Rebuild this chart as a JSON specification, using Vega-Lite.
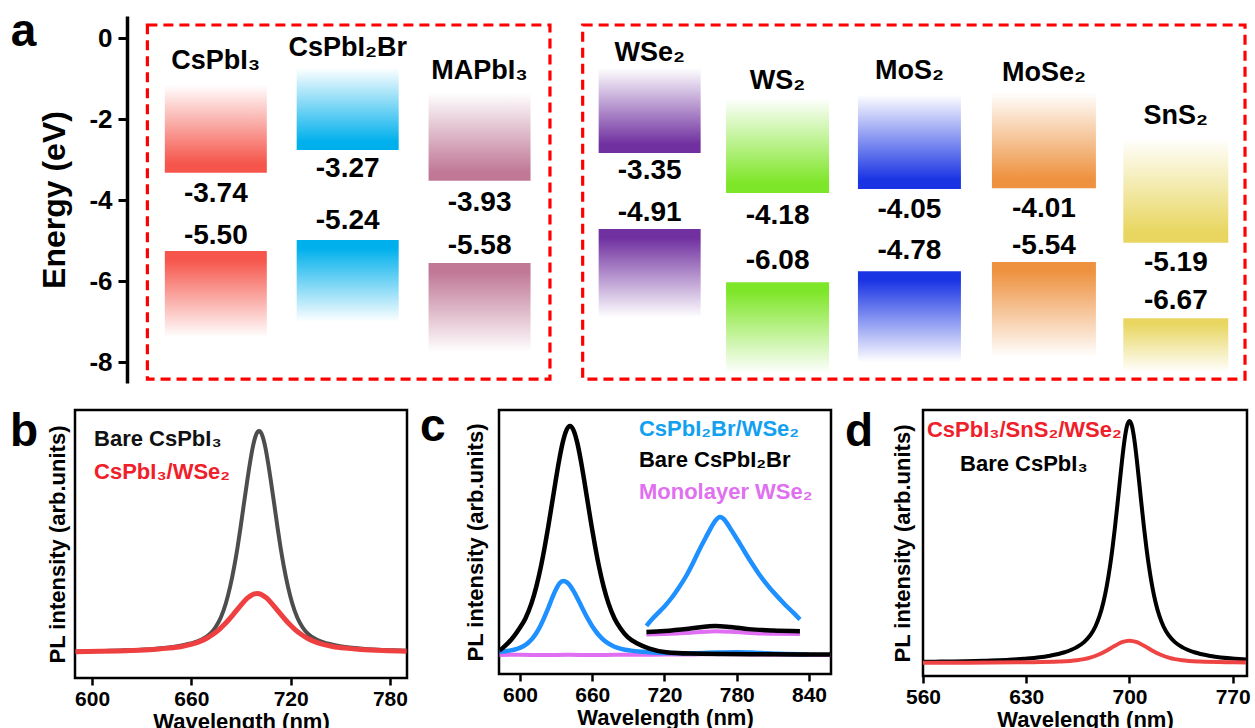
{
  "$schema": "https://vega.github.io/schema/vega-lite/v6.json",
  "padding": {"left": 8, "top": 8, "right": 0, "bottom": 0},
  "config": {
    "font": "Liberation Sans",
    "view": {"stroke": "#000000", "strokeWidth": 2.5},
    "axis": {"labelFontWeight": "bold", "titleFontWeight": "bold", "labelColor": "#000000", "titleColor": "#000000", "grid": false, "labelFont": "Liberation Sans", "titleFont": "Liberation Sans"},
    "text": {"font": "Liberation Sans", "fontWeight": "bold"}
  },
  "datasets": {
    "lv": [
      {"m": "CsPbI3", "slot": 1, "band": "CB", "top": -1.15, "bot": -3.32},
      {"m": "CsPbI3", "slot": 1, "band": "VB", "top": -5.25, "bot": -7.38},
      {"m": "CsPbI2Br", "slot": 2, "band": "CB", "top": -0.73, "bot": -2.76},
      {"m": "CsPbI2Br", "slot": 2, "band": "VB", "top": -4.98, "bot": -7.01},
      {"m": "MAPbI3", "slot": 3, "band": "CB", "top": -1.34, "bot": -3.52},
      {"m": "MAPbI3", "slot": 3, "band": "VB", "top": -5.55, "bot": -7.75},
      {"m": "WSe2", "slot": 4.29, "band": "CB", "top": -0.73, "bot": -2.83},
      {"m": "WSe2", "slot": 4.29, "band": "VB", "top": -4.71, "bot": -6.89},
      {"m": "WS2", "slot": 5.26, "band": "CB", "top": -1.47, "bot": -3.82},
      {"m": "WS2", "slot": 5.26, "band": "VB", "top": -6.02, "bot": -8.27},
      {"m": "MoS2", "slot": 6.26, "band": "CB", "top": -1.39, "bot": -3.72},
      {"m": "MoS2", "slot": 6.26, "band": "VB", "top": -5.75, "bot": -8.0},
      {"m": "MoSe2", "slot": 7.28, "band": "CB", "top": -1.34, "bot": -3.70},
      {"m": "MoSe2", "slot": 7.28, "band": "VB", "top": -5.52, "bot": -7.87},
      {"m": "SnS2", "slot": 8.28, "band": "CB", "top": -2.46, "bot": -5.05},
      {"m": "SnS2", "slot": 8.28, "band": "VB", "top": -6.91, "bot": -8.25}
    ],
    "pb": [
      {"s": "bare", "w": 590, "i": 0.0062}, {"s": "bare", "w": 619.6, "i": 0.0116}, {"s": "bare", "w": 638.4, "i": 0.0193},
      {"s": "bare", "w": 650.9, "i": 0.0294}, {"s": "bare", "w": 659.6, "i": 0.0423}, {"s": "bare", "w": 665.9, "i": 0.0588},
      {"s": "bare", "w": 670.9, "i": 0.0832}, {"s": "bare", "w": 674.6, "i": 0.1159}, {"s": "bare", "w": 677.8, "i": 0.1597},
      {"s": "bare", "w": 680.9, "i": 0.2253}, {"s": "bare", "w": 683.4, "i": 0.2975}, {"s": "bare", "w": 685.9, "i": 0.3892},
      {"s": "bare", "w": 687.8, "i": 0.4708}, {"s": "bare", "w": 689.65, "i": 0.5614}, {"s": "bare", "w": 691.5, "i": 0.6586},
      {"s": "bare", "w": 693.4, "i": 0.7573}, {"s": "bare", "w": 695.3, "i": 0.8503}, {"s": "bare", "w": 697.15, "i": 0.9285},
      {"s": "bare", "w": 699.0, "i": 0.9813}, {"s": "bare", "w": 700.9, "i": 1.0}, {"s": "bare", "w": 702.8, "i": 0.9813},
      {"s": "bare", "w": 704.65, "i": 0.9285}, {"s": "bare", "w": 706.5, "i": 0.8503}, {"s": "bare", "w": 708.4, "i": 0.7573},
      {"s": "bare", "w": 710.3, "i": 0.6586}, {"s": "bare", "w": 712.15, "i": 0.5614}, {"s": "bare", "w": 714.0, "i": 0.4708},
      {"s": "bare", "w": 715.9, "i": 0.3892}, {"s": "bare", "w": 718.4, "i": 0.2975}, {"s": "bare", "w": 720.9, "i": 0.2253},
      {"s": "bare", "w": 724.0, "i": 0.1597}, {"s": "bare", "w": 727.15, "i": 0.1159}, {"s": "bare", "w": 730.9, "i": 0.0832},
      {"s": "bare", "w": 735.9, "i": 0.0588}, {"s": "bare", "w": 742.15, "i": 0.0423}, {"s": "bare", "w": 750.9, "i": 0.0294},
      {"s": "bare", "w": 763.4, "i": 0.0193}, {"s": "bare", "w": 782.15, "i": 0.0116}, {"s": "bare", "w": 790, "i": 0.0095},
      {"s": "het", "w": 590, "i": 0.0054}, {"s": "het", "w": 604.7, "i": 0.0072}, {"s": "het", "w": 623.7, "i": 0.011},
      {"s": "het", "w": 637.0, "i": 0.0158}, {"s": "het", "w": 646.5, "i": 0.0216}, {"s": "het", "w": 654.1, "i": 0.0292},
      {"s": "het", "w": 659.8, "i": 0.0385}, {"s": "het", "w": 664.55, "i": 0.0499}, {"s": "het", "w": 669.3, "i": 0.0663},
      {"s": "het", "w": 673.1, "i": 0.084}, {"s": "het", "w": 676.9, "i": 0.1065}, {"s": "het", "w": 679.75, "i": 0.1267},
      {"s": "het", "w": 682.6, "i": 0.1495}, {"s": "het", "w": 685.45, "i": 0.1745}, {"s": "het", "w": 688.3, "i": 0.2006},
      {"s": "het", "w": 691.15, "i": 0.2259}, {"s": "het", "w": 694.0, "i": 0.2477}, {"s": "het", "w": 696.85, "i": 0.2626},
      {"s": "het", "w": 699.7, "i": 0.268}, {"s": "het", "w": 702.55, "i": 0.2626}, {"s": "het", "w": 705.4, "i": 0.2477},
      {"s": "het", "w": 708.25, "i": 0.2259}, {"s": "het", "w": 711.1, "i": 0.2006}, {"s": "het", "w": 713.95, "i": 0.1745},
      {"s": "het", "w": 716.8, "i": 0.1495}, {"s": "het", "w": 719.65, "i": 0.1267}, {"s": "het", "w": 722.5, "i": 0.1065},
      {"s": "het", "w": 726.3, "i": 0.084}, {"s": "het", "w": 730.1, "i": 0.0663}, {"s": "het", "w": 734.85, "i": 0.0499},
      {"s": "het", "w": 739.6, "i": 0.0385}, {"s": "het", "w": 745.3, "i": 0.0292}, {"s": "het", "w": 752.9, "i": 0.0216},
      {"s": "het", "w": 762.4, "i": 0.0158}, {"s": "het", "w": 775.7, "i": 0.011}, {"s": "het", "w": 790, "i": 0.008}
    ],
    "pc": [
      {"s": "pink", "p": "main", "w": 583, "i": 0.0}, {"s": "pink", "p": "main", "w": 600, "i": 0.001}, {"s": "pink", "p": "main", "w": 620, "i": 0.0},
      {"s": "pink", "p": "main", "w": 640, "i": 0.001}, {"s": "pink", "p": "main", "w": 660, "i": 0.0}, {"s": "pink", "p": "main", "w": 680, "i": 0.001},
      {"s": "pink", "p": "main", "w": 700, "i": 0.001}, {"s": "pink", "p": "main", "w": 720, "i": 0.002}, {"s": "pink", "p": "main", "w": 740, "i": 0.002},
      {"s": "pink", "p": "main", "w": 760, "i": 0.004}, {"s": "pink", "p": "main", "w": 780, "i": 0.003}, {"s": "pink", "p": "main", "w": 800, "i": 0.002},
      {"s": "pink", "p": "main", "w": 820, "i": 0.001}, {"s": "pink", "p": "main", "w": 840, "i": 0.001}, {"s": "pink", "p": "main", "w": 858, "i": 0.0},
      {"s": "pink", "p": "inset", "w": 705, "i": 0.09}, {"s": "pink", "p": "inset", "w": 730, "i": 0.094}, {"s": "pink", "p": "inset", "w": 750, "i": 0.1},
      {"s": "pink", "p": "inset", "w": 762, "i": 0.104}, {"s": "pink", "p": "inset", "w": 780, "i": 0.1}, {"s": "pink", "p": "inset", "w": 800, "i": 0.094},
      {"s": "pink", "p": "inset", "w": 832.5, "i": 0.092},
      {"s": "blue", "p": "main", "w": 583, "i": 0.0137}, {"s": "blue", "p": "main", "w": 591.2, "i": 0.019}, {"s": "blue", "p": "main", "w": 597.6, "i": 0.0269},
      {"s": "blue", "p": "main", "w": 602.4, "i": 0.0374}, {"s": "blue", "p": "main", "w": 606.4, "i": 0.0516}, {"s": "blue", "p": "main", "w": 610.4, "i": 0.0728},
      {"s": "blue", "p": "main", "w": 613.6, "i": 0.0961}, {"s": "blue", "p": "main", "w": 616.8, "i": 0.1257}, {"s": "blue", "p": "main", "w": 619.2, "i": 0.1521},
      {"s": "blue", "p": "main", "w": 621.6, "i": 0.1813}, {"s": "blue", "p": "main", "w": 624, "i": 0.2127}, {"s": "blue", "p": "main", "w": 626.4, "i": 0.2446},
      {"s": "blue", "p": "main", "w": 628.8, "i": 0.2746}, {"s": "blue", "p": "main", "w": 631.2, "i": 0.2999}, {"s": "blue", "p": "main", "w": 633.6, "i": 0.317},
      {"s": "blue", "p": "main", "w": 636, "i": 0.323}, {"s": "blue", "p": "main", "w": 639, "i": 0.317}, {"s": "blue", "p": "main", "w": 642, "i": 0.2999},
      {"s": "blue", "p": "main", "w": 645, "i": 0.2746}, {"s": "blue", "p": "main", "w": 648, "i": 0.2446}, {"s": "blue", "p": "main", "w": 651, "i": 0.2127},
      {"s": "blue", "p": "main", "w": 654, "i": 0.1813}, {"s": "blue", "p": "main", "w": 657, "i": 0.1521}, {"s": "blue", "p": "main", "w": 660, "i": 0.1257},
      {"s": "blue", "p": "main", "w": 664, "i": 0.0961}, {"s": "blue", "p": "main", "w": 668, "i": 0.0728}, {"s": "blue", "p": "main", "w": 673, "i": 0.0516},
      {"s": "blue", "p": "main", "w": 678, "i": 0.0374}, {"s": "blue", "p": "main", "w": 684, "i": 0.0269}, {"s": "blue", "p": "main", "w": 692, "i": 0.019},
      {"s": "blue", "p": "main", "w": 702, "i": 0.0137}, {"s": "blue", "p": "main", "w": 720, "i": 0.009}, {"s": "blue", "p": "main", "w": 745, "i": 0.008},
      {"s": "blue", "p": "main", "w": 765, "i": 0.011}, {"s": "blue", "p": "main", "w": 780, "i": 0.012}, {"s": "blue", "p": "main", "w": 795, "i": 0.01},
      {"s": "blue", "p": "main", "w": 815, "i": 0.005}, {"s": "blue", "p": "main", "w": 840, "i": 0.002},
      {"s": "blue", "p": "inset", "w": 705, "i": 0.127}, {"s": "blue", "p": "inset", "w": 710, "i": 0.158}, {"s": "blue", "p": "inset", "w": 715, "i": 0.185},
      {"s": "blue", "p": "inset", "w": 720, "i": 0.212}, {"s": "blue", "p": "inset", "w": 726, "i": 0.25}, {"s": "blue", "p": "inset", "w": 732, "i": 0.295},
      {"s": "blue", "p": "inset", "w": 738, "i": 0.345}, {"s": "blue", "p": "inset", "w": 744, "i": 0.405}, {"s": "blue", "p": "inset", "w": 749, "i": 0.46},
      {"s": "blue", "p": "inset", "w": 754, "i": 0.51}, {"s": "blue", "p": "inset", "w": 758, "i": 0.55}, {"s": "blue", "p": "inset", "w": 762, "i": 0.585},
      {"s": "blue", "p": "inset", "w": 766, "i": 0.603}, {"s": "blue", "p": "inset", "w": 769, "i": 0.595}, {"s": "blue", "p": "inset", "w": 772, "i": 0.575},
      {"s": "blue", "p": "inset", "w": 775, "i": 0.55}, {"s": "blue", "p": "inset", "w": 778, "i": 0.525}, {"s": "blue", "p": "inset", "w": 781, "i": 0.5},
      {"s": "blue", "p": "inset", "w": 785, "i": 0.465}, {"s": "blue", "p": "inset", "w": 789, "i": 0.43}, {"s": "blue", "p": "inset", "w": 793, "i": 0.397},
      {"s": "blue", "p": "inset", "w": 798, "i": 0.357}, {"s": "blue", "p": "inset", "w": 804, "i": 0.315}, {"s": "blue", "p": "inset", "w": 810, "i": 0.277},
      {"s": "blue", "p": "inset", "w": 816, "i": 0.243}, {"s": "blue", "p": "inset", "w": 821, "i": 0.215}, {"s": "blue", "p": "inset", "w": 827, "i": 0.185},
      {"s": "blue", "p": "inset", "w": 832.5, "i": 0.155},
      {"s": "black", "p": "main", "w": 583, "i": 0.02}, {"s": "black", "p": "main", "w": 585.5, "i": 0.03}, {"s": "black", "p": "main", "w": 593.5, "i": 0.072},
      {"s": "black", "p": "main", "w": 599.5, "i": 0.1159}, {"s": "black", "p": "main", "w": 604.5, "i": 0.1597}, {"s": "black", "p": "main", "w": 609.5, "i": 0.2253},
      {"s": "black", "p": "main", "w": 613.5, "i": 0.2975}, {"s": "black", "p": "main", "w": 617.5, "i": 0.3892}, {"s": "black", "p": "main", "w": 620.5, "i": 0.4708},
      {"s": "black", "p": "main", "w": 623.5, "i": 0.5614}, {"s": "black", "p": "main", "w": 626.5, "i": 0.6586}, {"s": "black", "p": "main", "w": 629.5, "i": 0.7573},
      {"s": "black", "p": "main", "w": 632.5, "i": 0.8503}, {"s": "black", "p": "main", "w": 635.5, "i": 0.9285}, {"s": "black", "p": "main", "w": 638.5, "i": 0.9813},
      {"s": "black", "p": "main", "w": 641.5, "i": 1.0}, {"s": "black", "p": "main", "w": 644.5, "i": 0.9813}, {"s": "black", "p": "main", "w": 647.5, "i": 0.9285},
      {"s": "black", "p": "main", "w": 650.5, "i": 0.8503}, {"s": "black", "p": "main", "w": 653.5, "i": 0.7573}, {"s": "black", "p": "main", "w": 656.5, "i": 0.6586},
      {"s": "black", "p": "main", "w": 659.5, "i": 0.5614}, {"s": "black", "p": "main", "w": 662.5, "i": 0.4708}, {"s": "black", "p": "main", "w": 665.5, "i": 0.3892},
      {"s": "black", "p": "main", "w": 669.5, "i": 0.2975}, {"s": "black", "p": "main", "w": 673.5, "i": 0.2253}, {"s": "black", "p": "main", "w": 678.5, "i": 0.1597},
      {"s": "black", "p": "main", "w": 683.5, "i": 0.1159}, {"s": "black", "p": "main", "w": 689.5, "i": 0.078}, {"s": "black", "p": "main", "w": 697.5, "i": 0.05},
      {"s": "black", "p": "main", "w": 707.5, "i": 0.028}, {"s": "black", "p": "main", "w": 721.5, "i": 0.012}, {"s": "black", "p": "main", "w": 741.5, "i": 0.006},
      {"s": "black", "p": "main", "w": 770, "i": 0.004}, {"s": "black", "p": "main", "w": 810, "i": 0.003}, {"s": "black", "p": "main", "w": 858, "i": 0.002},
      {"s": "black", "p": "inset", "w": 705, "i": 0.1}, {"s": "black", "p": "inset", "w": 720, "i": 0.105}, {"s": "black", "p": "inset", "w": 740, "i": 0.115},
      {"s": "black", "p": "inset", "w": 755, "i": 0.124}, {"s": "black", "p": "inset", "w": 762, "i": 0.127}, {"s": "black", "p": "inset", "w": 775, "i": 0.122},
      {"s": "black", "p": "inset", "w": 790, "i": 0.113}, {"s": "black", "p": "inset", "w": 810, "i": 0.107}, {"s": "black", "p": "inset", "w": 832.5, "i": 0.104}
    ],
    "pd": [
      {"s": "bare", "w": 560, "i": 0.0046}, {"s": "bare", "w": 568, "i": 0.0052}, {"s": "bare", "w": 601, "i": 0.0092},
      {"s": "bare", "w": 628.5, "i": 0.0173}, {"s": "bare", "w": 645, "i": 0.0289}, {"s": "bare", "w": 656, "i": 0.0441},
      {"s": "bare", "w": 663.7, "i": 0.0632}, {"s": "bare", "w": 669.2, "i": 0.0859}, {"s": "bare", "w": 673.6, "i": 0.1155},
      {"s": "bare", "w": 676.9, "i": 0.1504}, {"s": "bare", "w": 679.65, "i": 0.1929}, {"s": "bare", "w": 682.4, "i": 0.2531},
      {"s": "bare", "w": 684.6, "i": 0.3177}, {"s": "bare", "w": 686.8, "i": 0.3995}, {"s": "bare", "w": 688.45, "i": 0.4732},
      {"s": "bare", "w": 690.1, "i": 0.557}, {"s": "bare", "w": 691.75, "i": 0.6493}, {"s": "bare", "w": 693.4, "i": 0.7463},
      {"s": "bare", "w": 695.05, "i": 0.841}, {"s": "bare", "w": 696.7, "i": 0.923}, {"s": "bare", "w": 698.35, "i": 0.9796},
      {"s": "bare", "w": 700, "i": 1.0}, {"s": "bare", "w": 701.65, "i": 0.9796}, {"s": "bare", "w": 703.3, "i": 0.923},
      {"s": "bare", "w": 704.95, "i": 0.841}, {"s": "bare", "w": 706.6, "i": 0.7463}, {"s": "bare", "w": 708.25, "i": 0.6493},
      {"s": "bare", "w": 709.9, "i": 0.557}, {"s": "bare", "w": 711.55, "i": 0.4732}, {"s": "bare", "w": 713.2, "i": 0.3995},
      {"s": "bare", "w": 715.4, "i": 0.3177}, {"s": "bare", "w": 717.6, "i": 0.2531}, {"s": "bare", "w": 720.35, "i": 0.1929},
      {"s": "bare", "w": 723.1, "i": 0.1504}, {"s": "bare", "w": 726.4, "i": 0.1155}, {"s": "bare", "w": 730.8, "i": 0.0859},
      {"s": "bare", "w": 736.3, "i": 0.0632}, {"s": "bare", "w": 744, "i": 0.0441}, {"s": "bare", "w": 755, "i": 0.0289},
      {"s": "bare", "w": 771.5, "i": 0.0173}, {"s": "bare", "w": 779, "i": 0.0143},
      {"s": "het", "w": 560, "i": 0.001}, {"s": "het", "w": 589.5, "i": 0.001}, {"s": "het", "w": 632, "i": 0.0027},
      {"s": "het", "w": 652.4, "i": 0.0054}, {"s": "het", "w": 664.3, "i": 0.0107}, {"s": "het", "w": 672.8, "i": 0.0207},
      {"s": "het", "w": 679.6, "i": 0.0358}, {"s": "het", "w": 684.7, "i": 0.0516}, {"s": "het", "w": 689.8, "i": 0.0697},
      {"s": "het", "w": 694.9, "i": 0.0855}, {"s": "het", "w": 700, "i": 0.092}, {"s": "het", "w": 705.1, "i": 0.0855},
      {"s": "het", "w": 710.2, "i": 0.0697}, {"s": "het", "w": 715.3, "i": 0.0516}, {"s": "het", "w": 720.4, "i": 0.0358},
      {"s": "het", "w": 727.2, "i": 0.0207}, {"s": "het", "w": 735.7, "i": 0.0107}, {"s": "het", "w": 747.6, "i": 0.0054},
      {"s": "het", "w": 768, "i": 0.0027}, {"s": "het", "w": 779, "i": 0.0022}
    ]
  },
  "spacing": 27,
  "bounds": "flush",
  "vconcat": [
    {
      "width": 1177,
      "height": 367,
      "view": {"stroke": null},
      "layer": [
        {
          "data": {"values": [{"x1": 0.481, "x2": 3.534, "y1": 0.328, "y2": -8.412}, {"x1": 3.782, "x2": 8.805, "y1": 0.328, "y2": -8.412}]},
          "mark": {"type": "rect", "filled": false, "color": "#ff0000", "strokeWidth": 3.2, "strokeDash": [10, 6]},
          "encoding": {
            "x": {"field": "x1", "type": "quantitative", "scale": {"domain": [-0.03, 8.82], "nice": false, "zero": false}, "axis": null},
            "x2": {"field": "x2"},
            "y": {"field": "y1", "type": "quantitative", "scale": {"domain": [-8.51, 0.55], "nice": false, "zero": false},
                  "axis": {"title": "Energy (eV)", "offset": -52, "values": [0, -2, -4, -6, -8], "labelExpr": "toString(datum.value)", "domain": true, "domainColor": "#000000", "domainWidth": 3.5, "ticks": true, "tickSize": 9, "tickWidth": 3, "tickColor": "#000000", "labelFontSize": 26, "labelPadding": 6, "labelFlush": false, "labelOverlap": false, "titleFontSize": 32, "titlePadding": 17}},
            "y2": {"field": "y2"}
          }
        },
        {"data": {"name": "lv"}, "transform": [{"filter": "datum.m === 'CsPbI3'"}], "mark": {"type": "bar", "width": 102},
         "encoding": {"x": {"field": "slot", "type": "quantitative", "axis": null}, "y": {"field": "top", "type": "quantitative"}, "y2": {"field": "bot"},
          "fill": {"condition": {"test": "datum.band === 'CB'", "value": {"gradient": "linear", "x1": 0, "y1": 0, "x2": 0, "y2": 1, "stops": [{"offset": 0, "color": "#ffffff"}, {"offset": 0.9, "color": "#f5554a"}, {"offset": 1, "color": "#f5554a"}]}},
                   "value": {"gradient": "linear", "x1": 0, "y1": 0, "x2": 0, "y2": 1, "stops": [{"offset": 0, "color": "#f5554a"}, {"offset": 0.1, "color": "#f5554a"}, {"offset": 1, "color": "#ffffff"}]}}}},
        {"data": {"name": "lv"}, "transform": [{"filter": "datum.m === 'CsPbI2Br'"}], "mark": {"type": "bar", "width": 102},
         "encoding": {"x": {"field": "slot", "type": "quantitative", "axis": null}, "y": {"field": "top", "type": "quantitative"}, "y2": {"field": "bot"},
          "fill": {"condition": {"test": "datum.band === 'CB'", "value": {"gradient": "linear", "x1": 0, "y1": 0, "x2": 0, "y2": 1, "stops": [{"offset": 0, "color": "#ffffff"}, {"offset": 0.9, "color": "#00b0ec"}, {"offset": 1, "color": "#00b0ec"}]}},
                   "value": {"gradient": "linear", "x1": 0, "y1": 0, "x2": 0, "y2": 1, "stops": [{"offset": 0, "color": "#00b0ec"}, {"offset": 0.1, "color": "#00b0ec"}, {"offset": 1, "color": "#ffffff"}]}}}},
        {"data": {"name": "lv"}, "transform": [{"filter": "datum.m === 'MAPbI3'"}], "mark": {"type": "bar", "width": 102},
         "encoding": {"x": {"field": "slot", "type": "quantitative", "axis": null}, "y": {"field": "top", "type": "quantitative"}, "y2": {"field": "bot"},
          "fill": {"condition": {"test": "datum.band === 'CB'", "value": {"gradient": "linear", "x1": 0, "y1": 0, "x2": 0, "y2": 1, "stops": [{"offset": 0, "color": "#ffffff"}, {"offset": 0.9, "color": "#c07896"}, {"offset": 1, "color": "#c07896"}]}},
                   "value": {"gradient": "linear", "x1": 0, "y1": 0, "x2": 0, "y2": 1, "stops": [{"offset": 0, "color": "#c07896"}, {"offset": 0.1, "color": "#c07896"}, {"offset": 1, "color": "#ffffff"}]}}}},
        {"data": {"name": "lv"}, "transform": [{"filter": "datum.m === 'WSe2'"}], "mark": {"type": "bar", "width": 102},
         "encoding": {"x": {"field": "slot", "type": "quantitative", "axis": null}, "y": {"field": "top", "type": "quantitative"}, "y2": {"field": "bot"},
          "fill": {"condition": {"test": "datum.band === 'CB'", "value": {"gradient": "linear", "x1": 0, "y1": 0, "x2": 0, "y2": 1, "stops": [{"offset": 0, "color": "#ffffff"}, {"offset": 0.9, "color": "#7030a0"}, {"offset": 1, "color": "#7030a0"}]}},
                   "value": {"gradient": "linear", "x1": 0, "y1": 0, "x2": 0, "y2": 1, "stops": [{"offset": 0, "color": "#7030a0"}, {"offset": 0.1, "color": "#7030a0"}, {"offset": 1, "color": "#ffffff"}]}}}},
        {"data": {"name": "lv"}, "transform": [{"filter": "datum.m === 'WS2'"}], "mark": {"type": "bar", "width": 103},
         "encoding": {"x": {"field": "slot", "type": "quantitative", "axis": null}, "y": {"field": "top", "type": "quantitative"}, "y2": {"field": "bot"},
          "fill": {"condition": {"test": "datum.band === 'CB'", "value": {"gradient": "linear", "x1": 0, "y1": 0, "x2": 0, "y2": 1, "stops": [{"offset": 0, "color": "#ffffff"}, {"offset": 0.9, "color": "#7ee628"}, {"offset": 1, "color": "#7ee628"}]}},
                   "value": {"gradient": "linear", "x1": 0, "y1": 0, "x2": 0, "y2": 1, "stops": [{"offset": 0, "color": "#7ee628"}, {"offset": 0.1, "color": "#7ee628"}, {"offset": 1, "color": "#ffffff"}]}}}},
        {"data": {"name": "lv"}, "transform": [{"filter": "datum.m === 'MoS2'"}], "mark": {"type": "bar", "width": 103},
         "encoding": {"x": {"field": "slot", "type": "quantitative", "axis": null}, "y": {"field": "top", "type": "quantitative"}, "y2": {"field": "bot"},
          "fill": {"condition": {"test": "datum.band === 'CB'", "value": {"gradient": "linear", "x1": 0, "y1": 0, "x2": 0, "y2": 1, "stops": [{"offset": 0, "color": "#ffffff"}, {"offset": 0.9, "color": "#1a34e4"}, {"offset": 1, "color": "#1a34e4"}]}},
                   "value": {"gradient": "linear", "x1": 0, "y1": 0, "x2": 0, "y2": 1, "stops": [{"offset": 0, "color": "#1a34e4"}, {"offset": 0.1, "color": "#1a34e4"}, {"offset": 1, "color": "#ffffff"}]}}}},
        {"data": {"name": "lv"}, "transform": [{"filter": "datum.m === 'MoSe2'"}], "mark": {"type": "bar", "width": 104},
         "encoding": {"x": {"field": "slot", "type": "quantitative", "axis": null}, "y": {"field": "top", "type": "quantitative"}, "y2": {"field": "bot"},
          "fill": {"condition": {"test": "datum.band === 'CB'", "value": {"gradient": "linear", "x1": 0, "y1": 0, "x2": 0, "y2": 1, "stops": [{"offset": 0, "color": "#ffffff"}, {"offset": 0.9, "color": "#ee9240"}, {"offset": 1, "color": "#ee9240"}]}},
                   "value": {"gradient": "linear", "x1": 0, "y1": 0, "x2": 0, "y2": 1, "stops": [{"offset": 0, "color": "#ee9240"}, {"offset": 0.1, "color": "#ee9240"}, {"offset": 1, "color": "#ffffff"}]}}}},
        {"data": {"name": "lv"}, "transform": [{"filter": "datum.m === 'SnS2'"}], "mark": {"type": "bar", "width": 105},
         "encoding": {"x": {"field": "slot", "type": "quantitative", "axis": null}, "y": {"field": "top", "type": "quantitative"}, "y2": {"field": "bot"},
          "fill": {"condition": {"test": "datum.band === 'CB'", "value": {"gradient": "linear", "x1": 0, "y1": 0, "x2": 0, "y2": 1, "stops": [{"offset": 0, "color": "#ffffff"}, {"offset": 0.9, "color": "#e8d660"}, {"offset": 1, "color": "#e8d660"}]}},
                   "value": {"gradient": "linear", "x1": 0, "y1": 0, "x2": 0, "y2": 1, "stops": [{"offset": 0, "color": "#e8d660"}, {"offset": 0.1, "color": "#e8d660"}, {"offset": 1, "color": "#ffffff"}]}}}},
        {
          "data": {"values": [
            {"t": "CsPbI₃", "slot": 1, "e": -0.56}, {"t": "CsPbI₂Br", "slot": 2, "e": -0.24}, {"t": "MAPbI₃", "slot": 3, "e": -0.81},
            {"t": "WSe₂", "slot": 4.29, "e": -0.36}, {"t": "WS₂", "slot": 5.26, "e": -1.05}, {"t": "MoS₂", "slot": 6.26, "e": -0.81},
            {"t": "MoSe₂", "slot": 7.28, "e": -0.86}, {"t": "SnS₂", "slot": 8.28, "e": -1.92}
          ]},
          "mark": {"type": "text", "fontSize": 27, "fontWeight": "bold", "color": "#000000", "align": "center", "baseline": "middle"},
          "encoding": {"x": {"field": "slot", "type": "quantitative", "axis": null}, "y": {"field": "e", "type": "quantitative"}, "text": {"field": "t"}}
        },
        {
          "data": {"values": [
            {"t": "-3.74", "slot": 1, "e": -3.84}, {"t": "-5.50", "slot": 1, "e": -4.88},
            {"t": "-3.27", "slot": 2, "e": -3.23}, {"t": "-5.24", "slot": 2, "e": -4.51},
            {"t": "-3.93", "slot": 3, "e": -4.07}, {"t": "-5.58", "slot": 3, "e": -5.13},
            {"t": "-3.35", "slot": 4.29, "e": -3.28}, {"t": "-4.91", "slot": 4.29, "e": -4.31},
            {"t": "-4.18", "slot": 5.26, "e": -4.39}, {"t": "-6.08", "slot": 5.26, "e": -5.5},
            {"t": "-4.05", "slot": 6.26, "e": -4.24}, {"t": "-4.78", "slot": 6.26, "e": -5.25},
            {"t": "-4.01", "slot": 7.28, "e": -4.21}, {"t": "-5.54", "slot": 7.28, "e": -5.13},
            {"t": "-5.19", "slot": 8.28, "e": -5.55}, {"t": "-6.67", "slot": 8.28, "e": -6.49}
          ]},
          "mark": {"type": "text", "fontSize": 28, "fontWeight": "bold", "color": "#000000", "align": "center", "baseline": "middle"},
          "encoding": {"x": {"field": "slot", "type": "quantitative", "axis": null}, "y": {"field": "e", "type": "quantitative"}, "text": {"field": "t"}}
        },
        {
          "data": {"values": [{"t": "a", "slot": -0.556, "e": -0.19}]},
          "mark": {"type": "text", "fontSize": 46, "fontWeight": "bold", "color": "#000000", "align": "left", "baseline": "alphabetic"},
          "encoding": {"x": {"field": "slot", "type": "quantitative", "axis": null}, "y": {"field": "e", "type": "quantitative"}, "text": {"field": "t"}}
        }
      ]
    },
    {
      "spacing": 92,
      "bounds": "flush",
      "hconcat": [
        {
          "width": 332,
          "height": 268,
          "layer": [
            {
              "data": {"name": "pb"}, "transform": [{"filter": "datum.s === 'bare'"}],
              "mark": {"type": "line", "color": "#4d4d4d", "strokeWidth": 4, "interpolate": "monotone"},
              "encoding": {
                "x": {"field": "w", "type": "quantitative", "scale": {"domain": [589.7, 790.3], "nice": false, "zero": false},
                      "axis": {"title": "Wavelength (nm)", "values": [600, 660, 720, 780], "domain": false, "ticks": true, "tickSize": 7, "tickWidth": 2.5, "tickColor": "#000000", "labelFontSize": 21, "labelPadding": 3, "labelFlush": false, "labelOverlap": false, "titleFontSize": 22, "titlePadding": 2}},
                "y": {"field": "i", "type": "quantitative", "scale": {"domain": [-0.113, 1.095], "nice": false, "zero": false},
                      "axis": {"title": "PL intensity (arb.units)", "labels": false, "ticks": false, "domain": false, "titleFontSize": 22, "titlePadding": 5.5}}
              }
            },
            {
              "data": {"name": "pb"}, "transform": [{"filter": "datum.s === 'het'"}],
              "mark": {"type": "line", "color": "#ee4040", "strokeWidth": 5, "interpolate": "monotone"},
              "encoding": {"x": {"field": "w", "type": "quantitative"}, "y": {"field": "i", "type": "quantitative"}}
            },
            {
              "data": {"values": [{"t": "b", "w": 550.4, "i": 0.932}]},
              "mark": {"type": "text", "fontSize": 46, "fontWeight": "bold", "color": "#000000", "align": "left", "baseline": "alphabetic"},
              "encoding": {"x": {"field": "w", "type": "quantitative"}, "y": {"field": "i", "type": "quantitative"}, "text": {"field": "t"}}
            },
            {
              "data": {"values": [{"t": "Bare CsPbI₃", "w": 601.2, "i": 0.964}]},
              "mark": {"type": "text", "fontSize": 22, "fontWeight": "bold", "color": "#111111", "align": "left", "baseline": "middle"},
              "encoding": {"x": {"field": "w", "type": "quantitative"}, "y": {"field": "i", "type": "quantitative"}, "text": {"field": "t"}}
            },
            {
              "data": {"values": [{"t": "CsPbI₃/WSe₂", "w": 601.2, "i": 0.815}]},
              "mark": {"type": "text", "fontSize": 22, "fontWeight": "bold", "color": "#f0202a", "align": "left", "baseline": "middle"},
              "encoding": {"x": {"field": "w", "type": "quantitative"}, "y": {"field": "i", "type": "quantitative"}, "text": {"field": "t"}}
            }
          ]
        },
        {
          "width": 332,
          "height": 264,
          "layer": [
            {
              "data": {"name": "pc"}, "transform": [{"filter": "datum.s === 'pink'"}],
              "mark": {"type": "line", "color": "#df6ef2", "strokeWidth": 4, "interpolate": "monotone"},
              "encoding": {
                "x": {"field": "w", "type": "quantitative", "scale": {"domain": [582.56, 858.3], "nice": false, "zero": false},
                      "axis": {"title": "Wavelength (nm)", "values": [600, 660, 720, 780, 840], "domain": false, "ticks": true, "tickSize": 7, "tickWidth": 2.5, "tickColor": "#000000", "labelFontSize": 21, "labelPadding": 3, "labelFlush": false, "labelOverlap": false, "titleFontSize": 22, "titlePadding": 2}},
                "y": {"field": "i", "type": "quantitative", "scale": {"domain": [-0.083, 1.07], "nice": false, "zero": false},
                      "axis": {"title": "PL intensity (arb.units)", "labels": false, "ticks": false, "domain": false, "titleFontSize": 22, "titlePadding": 11.5}},
                "detail": {"field": "p", "type": "nominal"}
              }
            },
            {
              "data": {"name": "pc"}, "transform": [{"filter": "datum.s === 'blue'"}],
              "mark": {"type": "line", "color": "#1e90ff", "strokeWidth": 4.5, "interpolate": "monotone"},
              "encoding": {"x": {"field": "w", "type": "quantitative"}, "y": {"field": "i", "type": "quantitative"}, "detail": {"field": "p", "type": "nominal"}}
            },
            {
              "data": {"name": "pc"}, "transform": [{"filter": "datum.s === 'black'"}],
              "mark": {"type": "line", "color": "#000000", "strokeWidth": 4.5, "interpolate": "monotone"},
              "encoding": {"x": {"field": "w", "type": "quantitative"}, "y": {"field": "i", "type": "quantitative"}, "detail": {"field": "p", "type": "nominal"}}
            },
            {
              "data": {"values": [{"t": "c", "w": 516.9, "i": 0.934}]},
              "mark": {"type": "text", "fontSize": 46, "fontWeight": "bold", "color": "#000000", "align": "left", "baseline": "alphabetic"},
              "encoding": {"x": {"field": "w", "type": "quantitative"}, "y": {"field": "i", "type": "quantitative"}, "text": {"field": "t"}}
            },
            {
              "data": {"values": [{"t": "CsPbI₂Br/WSe₂", "w": 698.8, "i": 0.987}]},
              "mark": {"type": "text", "fontSize": 22, "fontWeight": "bold", "color": "#12a0f0", "align": "left", "baseline": "middle"},
              "encoding": {"x": {"field": "w", "type": "quantitative"}, "y": {"field": "i", "type": "quantitative"}, "text": {"field": "t"}}
            },
            {
              "data": {"values": [{"t": "Bare CsPbI₂Br", "w": 698.8, "i": 0.852}]},
              "mark": {"type": "text", "fontSize": 22, "fontWeight": "bold", "color": "#000000", "align": "left", "baseline": "middle"},
              "encoding": {"x": {"field": "w", "type": "quantitative"}, "y": {"field": "i", "type": "quantitative"}, "text": {"field": "t"}}
            },
            {
              "data": {"values": [{"t": "Monolayer WSe₂", "w": 698.8, "i": 0.712}]},
              "mark": {"type": "text", "fontSize": 22, "fontWeight": "bold", "color": "#e070f0", "align": "left", "baseline": "middle"},
              "encoding": {"x": {"field": "w", "type": "quantitative"}, "y": {"field": "i", "type": "quantitative"}, "text": {"field": "t"}}
            }
          ]
        },
        {
          "width": 324,
          "height": 266,
          "layer": [
            {
              "data": {"name": "pd"}, "transform": [{"filter": "datum.s === 'bare'"}],
              "mark": {"type": "line", "color": "#000000", "strokeWidth": 4, "interpolate": "monotone"},
              "encoding": {
                "x": {"field": "w", "type": "quantitative", "scale": {"domain": [560, 779.7], "nice": false, "zero": false},
                      "axis": {"title": "Wavelength (nm)", "values": [560, 630, 700, 770], "domain": false, "ticks": true, "tickSize": 7, "tickWidth": 2.5, "tickColor": "#000000", "labelFontSize": 21, "labelPadding": 3, "labelFlush": false, "labelOverlap": false, "titleFontSize": 22, "titlePadding": 2}},
                "y": {"field": "i", "type": "quantitative", "scale": {"domain": [-0.054, 1.045], "nice": false, "zero": false},
                      "axis": {"title": "PL intensity (arb.units)", "labels": false, "ticks": false, "domain": false, "titleFontSize": 22, "titlePadding": 8.5}}
              }
            },
            {
              "data": {"name": "pd"}, "transform": [{"filter": "datum.s === 'het'"}],
              "mark": {"type": "line", "color": "#ef4444", "strokeWidth": 4, "interpolate": "monotone"},
              "encoding": {"x": {"field": "w", "type": "quantitative"}, "y": {"field": "i", "type": "quantitative"}}
            },
            {
              "data": {"values": [{"t": "d", "w": 507.1, "i": 0.897}]},
              "mark": {"type": "text", "fontSize": 46, "fontWeight": "bold", "color": "#000000", "align": "left", "baseline": "alphabetic"},
              "encoding": {"x": {"field": "w", "type": "quantitative"}, "y": {"field": "i", "type": "quantitative"}, "text": {"field": "t"}}
            },
            {
              "data": {"values": [{"t": "CsPbI₃/SnS₂/WSe₂", "w": 562.7, "i": 0.963}]},
              "mark": {"type": "text", "fontSize": 22, "fontWeight": "bold", "color": "#f0202a", "align": "left", "baseline": "middle"},
              "encoding": {"x": {"field": "w", "type": "quantitative"}, "y": {"field": "i", "type": "quantitative"}, "text": {"field": "t"}}
            },
            {
              "data": {"values": [{"t": "Bare CsPbI₃", "w": 585.1, "i": 0.822}]},
              "mark": {"type": "text", "fontSize": 22, "fontWeight": "bold", "color": "#000000", "align": "left", "baseline": "middle"},
              "encoding": {"x": {"field": "w", "type": "quantitative"}, "y": {"field": "i", "type": "quantitative"}, "text": {"field": "t"}}
            }
          ]
        }
      ]
    }
  ]
}
